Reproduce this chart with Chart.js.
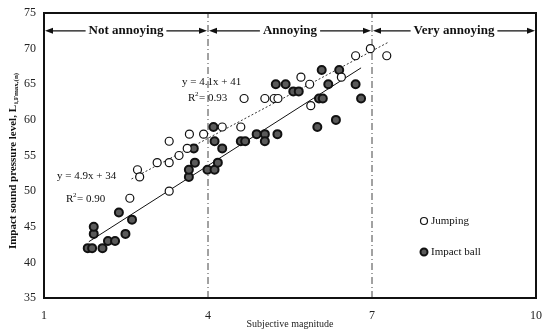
<!DOCTYPE html>
<html>
<head>
<meta charset="utf-8">
<script src="https://cdn.jsdelivr.net/npm/chart.js@4"></script>
<style>
  html, body { margin: 0; padding: 0; background: #fff; }
  #wrap { width: 547px; height: 330px; }
</style>
</head>
<body>
<div id="wrap"><canvas id="chart"></canvas></div>
<script>
// values
const jumpingX = [2.57, 2.71, 2.75, 3.07, 3.29, 3.29, 3.29, 3.47, 3.62, 3.66, 3.92, 4.26, 4.60, 4.66, 5.04, 5.21, 5.28, 5.70, 5.86, 5.88, 6.44, 6.70, 6.97, 7.27];
const jumpingY = [49, 53, 52, 54, 54, 50, 57, 55, 56, 58, 58, 59, 59, 63, 63, 63, 63, 66, 65, 62, 66, 69, 70, 69];
const impactX = [1.80, 1.88, 2.07, 1.91, 1.91, 2.17, 2.30, 2.49, 2.37, 2.61, 3.65, 3.65, 3.76, 3.74, 3.99, 4.12, 4.18, 4.12, 4.10, 4.26, 4.60, 4.68, 4.89, 5.04, 5.04, 5.27, 5.24, 5.42, 5.56, 5.66, 6.00, 6.03, 6.10, 6.20, 6.08, 6.40, 6.34, 6.70, 6.80];
const impactY = [42, 42, 42, 44, 45, 43, 43, 44, 47, 46, 52, 53, 54, 56, 53, 53, 54, 57, 59, 56, 57, 57, 58, 58, 57, 58, 65, 65, 64, 64, 59, 63, 63, 65, 67, 67, 60, 65, 63];

// fitted line end points (x, y)
const jumpingFitX = [2.6, 7.3];
const jumpingFitY = [51.7, 70.9];
const impactFitX = [1.82, 6.8];
const impactFitY = [42.9, 67.3];

const boundaries = [4, 7];
const zoneLabels = ['Not annoying', 'Annoying', 'Very annoying'];
const zoneEdges = [1, 4, 7, 10];
const xTicks = [1, 4, 7, 10];
const yTicks = [35, 40, 45, 50, 55, 60, 65, 70, 75];

const serif = '"Liberation Serif", "DejaVu Serif", serif';
const toPts = (xs, ys) => xs.map((x, i) => ({ x: x, y: ys[i] }));

const datasets = [
    {
        label: 'Jumping',
        data: toPts(jumpingX, jumpingY),
        pointRadius: 4,
        pointBackgroundColor: '#fff',
        pointBorderColor: '#111',
        pointBorderWidth: 1.2,
        showLine: false
    },
    {
        label: 'Impact ball',
        data: toPts(impactX, impactY),
        pointRadius: 4,
        pointBackgroundColor: '#5a5a5a',
        pointBorderColor: '#111',
        pointBorderWidth: 2,
        showLine: false
    },
    {
        label: 'fitJ',
        data: toPts(jumpingFitX, jumpingFitY),
        showLine: true,
        borderColor: '#333',
        borderWidth: 1,
        borderDash: [2, 2],
        pointRadius: 0
    },
    {
        label: 'fitI',
        data: toPts(impactFitX, impactFitY),
        showLine: true,
        borderColor: '#111',
        borderWidth: 1,
        pointRadius: 0
    }
];
boundaries.forEach(b => {
    datasets.push({
        label: 'bound',
        data: [{ x: b, y: 35 }, { x: b, y: 75 }],
        showLine: true,
        borderColor: '#444',
        borderWidth: 1,
        borderDash: [7, 3, 1, 3],
        pointRadius: 0
    });
});

// zones, equations, legend, frame
const extras = {
    id: 'extras',
    afterDatasetsDraw(chart) {
        const { ctx, chartArea: a, scales: { x, y } } = chart;
        ctx.save();

        // frame
        ctx.strokeStyle = '#111';
        ctx.lineWidth = 2;
        ctx.strokeRect(a.left, a.top, a.right - a.left, a.bottom - a.top);

        // zone arrows
        const ay = y.getPixelForValue(72.5);
        ctx.font = 'bold 13px ' + serif;
        ctx.textAlign = 'center';
        ctx.textBaseline = 'middle';
        ctx.fillStyle = '#111';
        ctx.lineWidth = 1.3;
        zoneLabels.forEach((lab, i) => {
            const xl = x.getPixelForValue(zoneEdges[i]) + 1;
            const xr = x.getPixelForValue(zoneEdges[i + 1]) - 1;
            const cx = (xl + xr) / 2;
            const w = ctx.measureText(lab).width;
            ctx.fillText(lab, cx, ay);
            ctx.beginPath();
            ctx.moveTo(xl + 4, ay); ctx.lineTo(cx - w / 2 - 3, ay);
            ctx.moveTo(cx + w / 2 + 3, ay); ctx.lineTo(xr - 4, ay);
            ctx.stroke();
            ctx.beginPath();
            ctx.moveTo(xl, ay); ctx.lineTo(xl + 8, ay - 3); ctx.lineTo(xl + 8, ay + 3); ctx.closePath();
            ctx.moveTo(xr, ay); ctx.lineTo(xr - 8, ay - 3); ctx.lineTo(xr - 8, ay + 3); ctx.closePath();
            ctx.fill();
        });

        // equations
        ctx.font = '11px ' + serif;
        ctx.textAlign = 'left';
        ctx.fillText('y = 4.1x + 41', 182, 82);
        ctx.fillText('R', 188, 98);
        ctx.fillText('= 0.93', 199, 98);
        ctx.fillText('y = 4.9x + 34', 57, 176);
        ctx.fillText('R', 66, 199);
        ctx.fillText('= 0.90', 77, 199);
        ctx.font = '7px ' + serif;
        ctx.fillText('2', 195, 94);
        ctx.fillText('2', 73, 195);

        // legend
        ctx.font = '11px ' + serif;
        [[datasets[0], 221], [datasets[1], 252]].forEach(([d, ly]) => {
            ctx.beginPath();
            ctx.arc(424, ly, 3.5, 0, Math.PI * 2);
            ctx.fillStyle = d.pointBackgroundColor;
            ctx.fill();
            ctx.lineWidth = d.pointBorderWidth;
            ctx.strokeStyle = d.pointBorderColor;
            ctx.stroke();
            ctx.fillStyle = '#111';
            ctx.fillText(d.label, 431, ly);
        });

        // y title with subscript
        ctx.translate(13, (a.top + a.bottom) / 2 + 6);
        ctx.rotate(-Math.PI / 2);
        const main = 'Impact sound pressure level, L';
        const sub = 'i,Fmax,(n)';
        ctx.font = 'bold 11px ' + serif;
        const mw = ctx.measureText(main).width;
        ctx.font = 'bold 7px ' + serif;
        const sw = ctx.measureText(sub).width;
        const sx = -(mw + sw) / 2;
        ctx.font = 'bold 11px ' + serif;
        ctx.fillText(main, sx, 0);
        ctx.font = 'bold 7px ' + serif;
        ctx.fillText(sub, sx + mw + 1, 3);

        ctx.restore();
    }
};

const ctx = document.getElementById('chart').getContext('2d');
new Chart(ctx, {
    type: 'scatter',
    data: { datasets: datasets },
    options: {
        responsive: true,
        maintainAspectRatio: false,
        animation: false,
        layout: { padding: { left: 0, top: 13, right: 11, bottom: 0 } },
        plugins: {
            legend: { display: false },
            tooltip: { enabled: false }
        },
        scales: {
            x: {
                type: 'linear',
                min: 1, max: 10,
                afterBuildTicks: s => { s.ticks = xTicks.map(v => ({ value: v })); },
                afterFit: s => { s.height = 32; s.paddingLeft = 0; s.paddingRight = 0; },
                grid: { display: false, drawTicks: false },
                border: { display: false },
                ticks: { padding: 11, color: '#222', font: { family: serif, size: 12 } },
                title: { display: true, text: 'Subjective magnitude', color: '#222', padding: 0, font: { family: serif, size: 10 } }
            },
            y: {
                type: 'linear',
                min: 35, max: 75,
                afterBuildTicks: s => { s.ticks = yTicks.map(v => ({ value: v })); },
                afterFit: s => { s.width = 44; s.paddingTop = 0; s.paddingBottom = 0; },
                grid: { display: false, drawTicks: false },
                border: { display: false },
                ticks: { padding: 8, color: '#222', font: { family: serif, size: 12 } }
            }
        }
    },
    plugins: [extras]
});
</script>
</body>
</html>
